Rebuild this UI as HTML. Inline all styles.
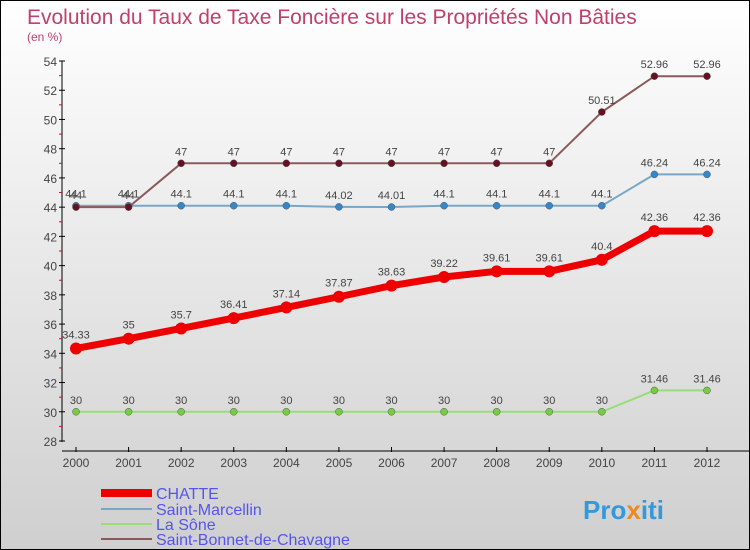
<!DOCTYPE html>
<html><head><meta charset="utf-8"><style>
body{margin:0}
#c{width:748px;height:548px;border:1px solid #000;background:linear-gradient(#fff,#cfcfcf);position:relative;font-family:"Liberation Sans",sans-serif}
</style></head><body>
<div id="c">
<svg id="s" width="748" height="548" style="position:absolute;left:0;top:0">
<text x="26" y="23" font-size="21" fill="#c0406a">Evolution du Taux de Taxe Foncière sur les Propriétés Non Bâties</text>
<text x="26" y="40" font-size="12" fill="#c0406a">(en %)</text>
<g id="axes"></g><g id="series"></g>
<g>
<rect x="100" y="488" width="51" height="8" fill="#e00"/>
<text x="155" y="498" font-size="16" fill="#5555ee">CHATTE</text>
<rect x="100" y="507" width="51" height="2" fill="#7aa7c7"/>
<text x="155" y="514" font-size="16" fill="#5555ee">Saint-Marcellin</text>
<rect x="100" y="522" width="51" height="2" fill="#99dd77"/>
<text x="155" y="529" font-size="16" fill="#5555ee">La Sône</text>
<rect x="100" y="537" width="51" height="2" fill="#8a5a5a"/>
<text x="155" y="544" font-size="16" fill="#5555ee">Saint-Bonnet-de-Chavagne</text>
</g>
<text x="582" y="518" font-size="26" font-weight="bold" fill="#3399dd">Pro<tspan fill="#ee8822">x</tspan>iti</text>
</svg></div>
<script>
const years=[2000,2001,2002,2003,2004,2005,2006,2007,2008,2009,2010,2011,2012];
const yTicks=[28,30,32,34,36,38,40,42,44,46,48,50,52,54];
const chatte=[34.33,35,35.7,36.41,37.14,37.87,38.63,39.22,39.61,39.61,40.4,42.36,42.36];
const marcellin=[44.1,44.1,44.1,44.1,44.1,44.02,44.01,44.1,44.1,44.1,44.1,46.24,46.24];
const sone=[30,30,30,30,30,30,30,30,30,30,30,31.46,31.46];
const bonnet=[44,44,47,47,47,47,47,47,47,47,50.51,52.96,52.96];
const fx=i=>75+i*(706-75)/12, fy=v=>440-(v-28)*380/26;
const NS="http://www.w3.org/2000/svg";
function mk(p,t,a){const e=document.createElementNS(NS,t);for(const k in a)e.setAttribute(k,a[k]);p.appendChild(e);return e;}
const ax=document.getElementById('axes'),se=document.getElementById('series');
let l=mk(ax,'line',{x1:61,y1:60,x2:61,y2:441,stroke:'#000'});

l=mk(ax,'line',{x1:61,y1:450,x2:748,y2:450,stroke:'#000'});

yTicks.forEach((v,i)=>{const y=fy(v);mk(ax,'line',{x1:58,y1:y,x2:64,y2:y,stroke:'#000'});
 if(i<yTicks.length-1)mk(ax,'line',{x1:58,y1:fy(v+1),x2:61,y2:fy(v+1),stroke:'#e00'});
 const t=mk(ax,'text',{x:56,y:y+5,'font-size':12,fill:'#444','text-anchor':'end'});t.textContent=v;
 });
years.forEach((yr,i)=>{const x=fx(i);mk(ax,'line',{x1:x,y1:446,x2:x,y2:451,stroke:'#000'});
 const t=mk(ax,'text',{x:x,y:466,'font-size':12,fill:'#444','text-anchor':'middle'});t.textContent=yr;
 });
function draw(vals,name,col,dot,w,r){const g=mk(se,'g',{});
 
 mk(g,'polyline',{points:vals.map((v,i)=>fx(i)+','+fy(v)).join(' '),fill:'none',stroke:col,'stroke-width':w});
 vals.forEach((v,i)=>{const c=mk(g,'circle',{cx:fx(i),cy:fy(v),r:r,fill:dot,stroke:w>3?'none':'#555','stroke-width':0.5});
  
  const t=mk(g,'text',{x:fx(i),y:fy(v)-(w>3?10:8),'font-size':11,fill:'#444','text-anchor':'middle'});t.textContent=v;
  });}
draw(sone,'la-sone','#99dd77','#77cc44',2,3.5);
draw(marcellin,'saint-marcellin','#7aa7c7','#3388cc',2,3.5);
draw(bonnet,'saint-bonnet','#8a5a5a','#661122',2,3.5);
draw(chatte,'chatte','#ee0000','#ee0000',7,6);
</script></body></html>
